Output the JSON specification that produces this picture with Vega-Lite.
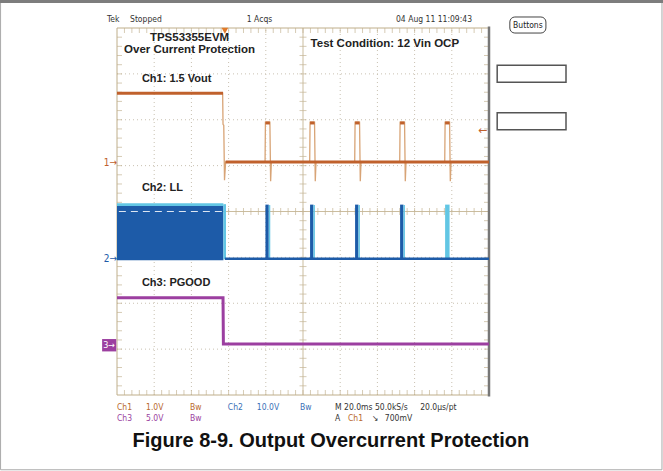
{
  "$schema": "https://vega.github.io/schema/vega-lite/v6.json",
  "width": 372,
  "height": 367,
  "autosize": {"type": "none"},
  "padding": {"left": 117, "top": 28, "right": 174, "bottom": 76},
  "background": "white",
  "config": {"view": {"stroke": null}, "axis": {"disable": true}},
  "datasets": {
    "gridx": [{"g": 1}, {"g": 2}, {"g": 3}, {"g": 4}, {"g": 6}, {"g": 7}, {"g": 8}, {"g": 9}],
    "gridy": [{"g": -3}, {"g": -2}, {"g": -1}, {"g": 1}, {"g": 2}, {"g": 3}],
    "xt": [{"t":0.2},{"t":0.4},{"t":0.6},{"t":0.8},{"t":1},{"t":1.2},{"t":1.4},{"t":1.6},{"t":1.8},{"t":2},{"t":2.2},{"t":2.4},{"t":2.6},{"t":2.8},{"t":3},{"t":3.2},{"t":3.4},{"t":3.6},{"t":3.8},{"t":4},{"t":4.2},{"t":4.4},{"t":4.6},{"t":4.8},{"t":5},{"t":5.2},{"t":5.4},{"t":5.6},{"t":5.8},{"t":6},{"t":6.2},{"t":6.4},{"t":6.6},{"t":6.8},{"t":7},{"t":7.2},{"t":7.4},{"t":7.6},{"t":7.8},{"t":8},{"t":8.2},{"t":8.4},{"t":8.6},{"t":8.8},{"t":9},{"t":9.2},{"t":9.4},{"t":9.6},{"t":9.8}],
    "yt": [{"v":-3.8},{"v":-3.6},{"v":-3.4},{"v":-3.2},{"v":-3},{"v":-2.8},{"v":-2.6},{"v":-2.4},{"v":-2.2},{"v":-2},{"v":-1.8},{"v":-1.6},{"v":-1.4},{"v":-1.2},{"v":-1},{"v":-0.8},{"v":-0.6},{"v":-0.4},{"v":-0.2},{"v":0},{"v":0.2},{"v":0.4},{"v":0.6},{"v":0.8},{"v":1},{"v":1.2},{"v":1.4},{"v":1.6},{"v":1.8},{"v":2},{"v":2.2},{"v":2.4},{"v":2.6},{"v":2.8},{"v":3},{"v":3.2},{"v":3.4},{"v":3.6},{"v":3.8}],
    "ch2dark": [
      {"t0": 0, "t1": 2.86, "v0": -1.06, "v1": 0.13},
      {"t0": 3.99, "t1": 4.08, "v0": -1.03, "v1": 0.15},
      {"t0": 5.19, "t1": 5.28, "v0": -1.03, "v1": 0.15},
      {"t0": 6.40, "t1": 6.49, "v0": -1.03, "v1": 0.15},
      {"t0": 7.61, "t1": 7.70, "v0": -1.03, "v1": 0.15}
    ],
    "ch2light": [
      {"t0": 0, "t1": 2.86, "v0": 0.12, "v1": 0.18},
      {"t0": 2.86, "t1": 2.93, "v0": -1.04, "v1": 0.16},
      {"t0": 4.08, "t1": 4.12, "v0": -1.02, "v1": 0.14},
      {"t0": 5.28, "t1": 5.32, "v0": -1.02, "v1": 0.14},
      {"t0": 6.49, "t1": 6.53, "v0": -1.02, "v1": 0.14},
      {"t0": 7.70, "t1": 7.74, "v0": -1.02, "v1": 0.14},
      {"t0": 8.82, "t1": 8.94, "v0": -1.02, "v1": 0.15}
    ],
    "ch1path": [
      {"t": 0, "v": 2.58}, {"t": 2.84, "v": 2.58}, {"t": 2.85, "v": 1.9}, {"t": 2.87, "v": 1.88}, {"t": 2.89, "v": 0.68}, {"t": 2.92, "v": 1.08},
      {"t": 3.98, "v": 1.08}, {"t": 3.99, "v": 1.95}, {"t": 4.11, "v": 1.95}, {"t": 4.13, "v": 0.66}, {"t": 4.15, "v": 1.08},
      {"t": 5.18, "v": 1.08}, {"t": 5.19, "v": 1.95}, {"t": 5.31, "v": 1.95}, {"t": 5.33, "v": 0.66}, {"t": 5.35, "v": 1.08},
      {"t": 6.39, "v": 1.08}, {"t": 6.40, "v": 1.95}, {"t": 6.52, "v": 1.95}, {"t": 6.54, "v": 0.66}, {"t": 6.56, "v": 1.08},
      {"t": 7.60, "v": 1.08}, {"t": 7.61, "v": 1.95}, {"t": 7.73, "v": 1.95}, {"t": 7.75, "v": 0.66}, {"t": 7.77, "v": 1.08},
      {"t": 8.81, "v": 1.08}, {"t": 8.82, "v": 1.95}, {"t": 8.94, "v": 1.95}, {"t": 8.96, "v": 0.66}, {"t": 8.98, "v": 1.08},
      {"t": 10, "v": 1.08}
    ],
    "ch1flat": [
      {"t0": 0, "t1": 2.85, "v": 2.58},
      {"t0": 2.92, "t1": 10, "v": 1.08},
      {"t0": 3.99, "t1": 4.11, "v": 1.93},
      {"t0": 5.19, "t1": 5.31, "v": 1.93},
      {"t0": 6.40, "t1": 6.52, "v": 1.93},
      {"t0": 7.61, "t1": 7.73, "v": 1.93},
      {"t0": 8.82, "t1": 8.94, "v": 1.93}
    ],
    "ch3path": [
      {"t": 0, "v": -1.88}, {"t": 2.85, "v": -1.88}, {"t": 2.86, "v": -2.89}, {"t": 10, "v": -2.89}
    ],
    "header": [
      {"x": -0.27, "y": 4.19, "label": "Tek"},
      {"x": 0.35, "y": 4.19, "label": "Stopped"},
      {"x": 3.49, "y": 4.19, "label": "1 Acqs"},
      {"x": 7.5, "y": 4.19, "label": "04 Aug 11 11:09:43"}
    ],
    "titles": [
      {"x": 1.95, "y": 3.78, "label": "TPS53355EVM"},
      {"x": 1.95, "y": 3.52, "label": "Over Current Protection"},
      {"x": 7.2, "y": 3.65, "label": "Test Condition: 12 Vin OCP"}
    ],
    "chlabels": [
      {"x": 0.67, "y": 2.89, "label": "Ch1: 1.5 Vout"},
      {"x": 0.67, "y": 0.51, "label": "Ch2: LL"},
      {"x": 0.67, "y": -1.56, "label": "Ch3: PGOOD"}
    ],
    "bottom": [
      {"x": 0, "y": -4.26, "label": "Ch1", "ch": "Ch1"},
      {"x": 0.78, "y": -4.26, "label": "1.0V", "ch": "Ch1"},
      {"x": 1.96, "y": -4.26, "label": "Bw", "ch": "Ch1"},
      {"x": 2.98, "y": -4.26, "label": "Ch2", "ch": "Ch2"},
      {"x": 3.76, "y": -4.26, "label": "10.0V", "ch": "Ch2"},
      {"x": 4.92, "y": -4.26, "label": "Bw", "ch": "Ch2"},
      {"x": 5.86, "y": -4.26, "label": "M 20.0ms 50.0kS/s", "ch": "M"},
      {"x": 8.15, "y": -4.26, "label": "20.0µs/pt", "ch": "M"},
      {"x": 0, "y": -4.51, "label": "Ch3", "ch": "Ch3"},
      {"x": 0.78, "y": -4.51, "label": "5.0V", "ch": "Ch3"},
      {"x": 1.96, "y": -4.51, "label": "Bw", "ch": "Ch3"},
      {"x": 5.86, "y": -4.51, "label": "A", "ch": "M"},
      {"x": 6.21, "y": -4.51, "label": "Ch1", "ch": "Ch1"},
      {"x": 6.85, "y": -4.51, "label": "↘", "ch": "M"},
      {"x": 7.2, "y": -4.51, "label": "700mV", "ch": "M"}
    ],
    "boxes": [
      {"x0": 10.22, "x1": 12.07, "y0": 3.19, "y1": 2.82},
      {"x0": 10.22, "x1": 12.07, "y0": 2.15, "y1": 1.78}
    ]
  },
  "layer": [
    {
      "data": {"values": [{}]},
      "mark": {"type": "rect", "fillOpacity": 0, "stroke": "#a9a9a9", "strokeWidth": 1},
      "encoding": {
        "x": {"datum": -3.13, "type": "quantitative", "scale": {"domain": [0, 10], "nice": false, "zero": false}},
        "x2": {"datum": 14.65},
        "y": {"datum": 4.59, "type": "quantitative", "scale": {"domain": [-4, 4], "nice": false, "zero": false}},
        "y2": {"datum": -5.63}
      }
    },
    {
      "data": {"values": [{}]},
      "mark": {"type": "rule", "color": "#7d7d7d", "strokeWidth": 3.5},
      "encoding": {"x": {"datum": -3.145}, "x2": {"datum": 14.68}, "y": {"datum": 4.585}}
    },
    {
      "data": {"name": "gridx"},
      "mark": {"type": "rule", "color": "#c9c1b1", "strokeWidth": 1, "strokeDash": [1, 3]},
      "encoding": {"x": {"field": "g", "type": "quantitative"}, "y": {"datum": -4}, "y2": {"datum": 4}}
    },
    {
      "data": {"name": "gridy"},
      "mark": {"type": "rule", "color": "#c9c1b1", "strokeWidth": 1, "strokeDash": [1, 3]},
      "encoding": {"y": {"field": "g", "type": "quantitative"}, "x": {"datum": 0}, "x2": {"datum": 10}}
    },
    {
      "data": {"values": [{}]},
      "mark": {"type": "rule", "color": "#cbbd9f", "strokeWidth": 1},
      "encoding": {"x": {"datum": 5}, "y": {"datum": -4}, "y2": {"datum": 4}}
    },
    {
      "data": {"values": [{}]},
      "mark": {"type": "rule", "color": "#cbbd9f", "strokeWidth": 1},
      "encoding": {"y": {"datum": 0}, "x": {"datum": 0}, "x2": {"datum": 10}}
    },
    {
      "data": {"name": "xt"},
      "mark": {"type": "tick", "orient": "vertical", "size": 7, "thickness": 1, "color": "#c4b596"},
      "encoding": {"x": {"field": "t", "type": "quantitative"}, "y": {"datum": 0}}
    },
    {
      "data": {"name": "xt"},
      "mark": {"type": "tick", "orient": "vertical", "size": 10, "thickness": 1, "color": "#c4b596", "clip": true},
      "encoding": {"x": {"field": "t", "type": "quantitative"}, "y": {"datum": 4}}
    },
    {
      "data": {"name": "xt"},
      "mark": {"type": "tick", "orient": "vertical", "size": 10, "thickness": 1, "color": "#c4b596", "clip": true},
      "encoding": {"x": {"field": "t", "type": "quantitative"}, "y": {"datum": -4}}
    },
    {
      "data": {"name": "yt"},
      "mark": {"type": "tick", "orient": "horizontal", "size": 7, "thickness": 1, "color": "#c4b596"},
      "encoding": {"y": {"field": "v", "type": "quantitative"}, "x": {"datum": 5}}
    },
    {
      "data": {"name": "yt"},
      "mark": {"type": "tick", "orient": "horizontal", "size": 10, "thickness": 1, "color": "#c4b596", "clip": true},
      "encoding": {"y": {"field": "v", "type": "quantitative"}, "x": {"datum": 0}}
    },
    {
      "data": {"name": "yt"},
      "mark": {"type": "tick", "orient": "horizontal", "size": 10, "thickness": 1, "color": "#c4b596", "clip": true},
      "encoding": {"y": {"field": "v", "type": "quantitative"}, "x": {"datum": 10}}
    },
    {
      "data": {"values": [{}]},
      "mark": {"type": "rect", "fillOpacity": 0, "stroke": "#bfae8a", "strokeWidth": 1},
      "encoding": {"x": {"datum": 0}, "x2": {"datum": 10}, "y": {"datum": -4}, "y2": {"datum": 4}}
    },
    {
      "data": {"values": [{}]},
      "mark": {"type": "rule", "color": "#777777", "strokeWidth": 2.5},
      "encoding": {"x": {"datum": 10}, "y": {"datum": -4.03}, "y2": {"datum": 4.03}}
    },
    {
      "data": {"name": "ch2dark"},
      "mark": {"type": "rect", "color": "#1d5ba8"},
      "encoding": {"x": {"field": "t0", "type": "quantitative"}, "x2": {"field": "t1"}, "y": {"field": "v0", "type": "quantitative"}, "y2": {"field": "v1"}}
    },
    {
      "data": {"name": "ch2light"},
      "mark": {"type": "rect", "color": "#62c6e4"},
      "encoding": {"x": {"field": "t0", "type": "quantitative"}, "x2": {"field": "t1"}, "y": {"field": "v0", "type": "quantitative"}, "y2": {"field": "v1"}}
    },
    {
      "data": {"values": [{}]},
      "mark": {"type": "rule", "color": "#1d5ba8", "strokeWidth": 2.5},
      "encoding": {"x": {"datum": 2.9}, "x2": {"datum": 10}, "y": {"datum": -1.03}}
    },
    {
      "data": {"values": [{}]},
      "mark": {"type": "rule", "color": "#ffffff", "strokeWidth": 1, "strokeDash": [7, 5], "opacity": 0.85},
      "encoding": {"x": {"datum": 0.05}, "x2": {"datum": 2.84}, "y": {"datum": 0}}
    },
    {
      "data": {"name": "ch1path"},
      "mark": {"type": "line", "color": "#d8a476", "strokeWidth": 1.3, "interpolate": "linear"},
      "encoding": {"x": {"field": "t", "type": "quantitative"}, "y": {"field": "v", "type": "quantitative"}}
    },
    {
      "data": {"name": "ch1flat"},
      "mark": {"type": "rule", "color": "#c0612c", "strokeWidth": 3},
      "encoding": {"x": {"field": "t0", "type": "quantitative"}, "x2": {"field": "t1"}, "y": {"field": "v", "type": "quantitative"}}
    },
    {
      "data": {"name": "ch3path"},
      "mark": {"type": "line", "color": "#9c3fa0", "strokeWidth": 3, "interpolate": "linear"},
      "encoding": {"x": {"field": "t", "type": "quantitative"}, "y": {"field": "v", "type": "quantitative"}}
    },
    {
      "data": {"values": [{}]},
      "mark": {"type": "text", "text": "1→", "align": "right", "baseline": "middle", "fontSize": 10, "font": "Liberation Sans Narrow, DejaVu Sans Condensed, sans-serif", "color": "#c0612c"},
      "encoding": {"x": {"datum": 0}, "y": {"datum": 1.05}}
    },
    {
      "data": {"values": [{}]},
      "mark": {"type": "text", "text": "2→", "align": "right", "baseline": "middle", "fontSize": 10, "font": "Liberation Sans Narrow, DejaVu Sans Condensed, sans-serif", "color": "#1d5ba8"},
      "encoding": {"x": {"datum": 0}, "y": {"datum": -1.03}}
    },
    {
      "data": {"values": [{}]},
      "mark": {"type": "rect", "color": "#9c3fa0"},
      "encoding": {"x": {"datum": -0.4}, "x2": {"datum": -0.02}, "y": {"datum": -2.78}, "y2": {"datum": -3.05}}
    },
    {
      "data": {"values": [{}]},
      "mark": {"type": "text", "text": "3→", "align": "center", "baseline": "middle", "fontSize": 9, "font": "Liberation Sans Narrow, DejaVu Sans Condensed, sans-serif", "color": "#ffffff"},
      "encoding": {"x": {"datum": -0.21}, "y": {"datum": -2.915}}
    },
    {
      "data": {"values": [{}]},
      "mark": {"type": "point", "shape": "triangle-down", "filled": true, "size": 45, "color": "#e07a2a", "opacity": 1},
      "encoding": {"x": {"datum": 2.9}, "y": {"datum": 3.94}}
    },
    {
      "data": {"values": [{}]},
      "mark": {"type": "text", "text": "←", "align": "center", "baseline": "middle", "fontSize": 11, "font": "DejaVu Sans", "color": "#c0612c"},
      "encoding": {"x": {"datum": 9.83}, "y": {"datum": 1.75}}
    },
    {
      "data": {"name": "boxes"},
      "mark": {"type": "rect", "fill": "#ffffff", "stroke": "#555555", "strokeWidth": 1.5},
      "encoding": {"x": {"field": "x0", "type": "quantitative"}, "x2": {"field": "x1"}, "y": {"field": "y0", "type": "quantitative"}, "y2": {"field": "y1"}}
    },
    {
      "data": {"values": [{}]},
      "mark": {"type": "rect", "fill": "#ffffff", "stroke": "#444444", "strokeWidth": 1, "cornerRadius": 5},
      "encoding": {"x": {"datum": 10.56}, "x2": {"datum": 11.53}, "y": {"datum": 4.24}, "y2": {"datum": 3.89}}
    },
    {
      "data": {"values": [{}]},
      "mark": {"type": "text", "text": "Buttons", "align": "center", "baseline": "middle", "fontSize": 8.5, "font": "Liberation Sans Narrow, DejaVu Sans Condensed, sans-serif", "color": "#222222"},
      "encoding": {"x": {"datum": 11.045}, "y": {"datum": 4.065}}
    },
    {
      "data": {"name": "header"},
      "mark": {"type": "text", "align": "left", "baseline": "middle", "fontSize": 8.5, "font": "Liberation Sans Narrow, DejaVu Sans Condensed, sans-serif", "color": "#333333"},
      "encoding": {"x": {"field": "x", "type": "quantitative"}, "y": {"field": "y", "type": "quantitative"}, "text": {"field": "label"}}
    },
    {
      "data": {"name": "titles"},
      "mark": {"type": "text", "align": "center", "baseline": "middle", "fontSize": 11.5, "fontWeight": "bold", "font": "Liberation Sans, Arial, sans-serif", "color": "#222222"},
      "encoding": {"x": {"field": "x", "type": "quantitative"}, "y": {"field": "y", "type": "quantitative"}, "text": {"field": "label"}}
    },
    {
      "data": {"name": "chlabels"},
      "mark": {"type": "text", "align": "left", "baseline": "middle", "fontSize": 11, "fontWeight": "bold", "font": "Liberation Sans, Arial, sans-serif", "color": "#222222"},
      "encoding": {"x": {"field": "x", "type": "quantitative"}, "y": {"field": "y", "type": "quantitative"}, "text": {"field": "label"}}
    },
    {
      "data": {"name": "bottom"},
      "mark": {"type": "text", "align": "left", "baseline": "middle", "fontSize": 8.5, "font": "Liberation Sans Narrow, DejaVu Sans Condensed, sans-serif"},
      "encoding": {
        "x": {"field": "x", "type": "quantitative"},
        "y": {"field": "y", "type": "quantitative"},
        "text": {"field": "label"},
        "color": {"field": "ch", "type": "nominal", "legend": null, "scale": {"domain": ["Ch1", "Ch2", "Ch3", "M"], "range": ["#b8682e", "#3a6fb6", "#9a42a0", "#333333"]}}
      }
    },
    {
      "data": {"values": [{}]},
      "mark": {"type": "text", "text": "Figure 8-9. Output Overcurrent Protection", "align": "center", "baseline": "middle", "fontSize": 20, "fontWeight": "bold", "font": "Liberation Sans, Arial, sans-serif", "color": "#111111"},
      "encoding": {"x": {"datum": 5.75}, "y": {"datum": -5.0}}
    }
  ]
}
